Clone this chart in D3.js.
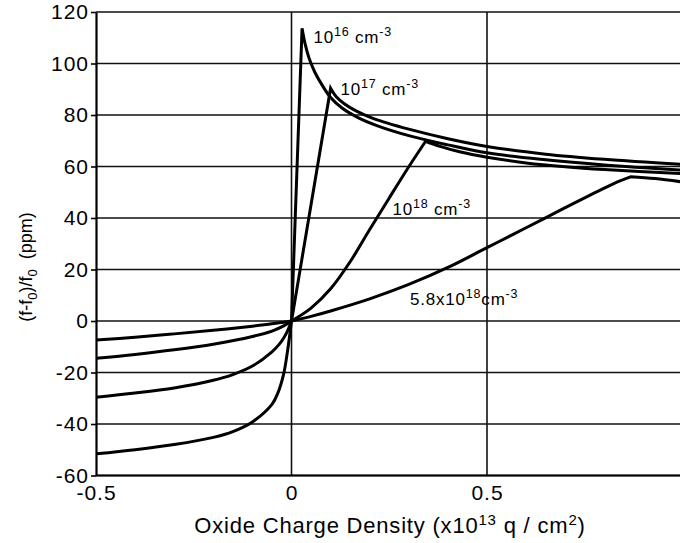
<!DOCTYPE html>
<meta charset="UTF-8">
<style>
    body { margin: 0; background: #fff; }
    text { font-family: "Liberation Sans", Arial, sans-serif; fill: #000; }
    .grid line { stroke: #111; stroke-width: 1.6px; }
    .curve { fill: none; stroke: #000; stroke-width: 3px; stroke-linejoin: miter; stroke-miterlimit: 4; }
</style>
<body>
<div id="chart"></div>
<script src="https://d3js.org/d3.v7.min.js"></script>
<script>

// tick values
var xTicks = [-0.5, 0, 0.5];
var yTicks = [-60, -40, -20, 0, 20, 40, 60, 80, 100, 120];

// curves: [oxide charge, (f-f0)/f0]
var n16 = [[-0.5,-7.4],[-0.4,-6.3],[-0.3,-5.0],[-0.2,-3.6],[-0.1,-2.0],[-0.05,-1.1],[-0.02,-0.45],
    [0,0],[0.027,113.7],
    [0.035,107.5],[0.045,102],[0.06,96.5],[0.08,91.2],[0.1,86.8],[0.13,82.6],[0.17,79],
    [0.22,75.8],[0.3,72],[0.4,68.4],[0.5,65.3],[0.65,62.6],[0.8,60.6],[1.0,58.6]];

var n17 = [[-0.5,-14.5],[-0.4,-13],[-0.3,-11.2],[-0.2,-9],[-0.1,-6.0],[-0.05,-3.9],[-0.02,-1.9],
    [0,0],[0.1,90.4],
    [0.115,87],[0.135,84.4],[0.165,81.6],[0.21,78.6],[0.3,74.5],[0.4,70.8],[0.5,67.8],
    [0.65,64.8],[0.8,62.8],[1.0,60.8]];

var n18 = [[-0.5,-29.6],[-0.4,-28],[-0.3,-26],[-0.2,-23],[-0.15,-20.8],[-0.1,-17.5],[-0.05,-12],
    [-0.03,-8.8],[-0.02,-6.6],[-0.01,-3.8],[0,0],
    [0.05,5],[0.1,12.5],[0.15,23],[0.2,35.5],[0.25,47.8],[0.3,59.9],[0.343,69.8],
    [0.38,67.8],[0.43,65.7],[0.5,63.6],[0.6,61.4],[0.7,59.9],[0.8,58.8],[1.0,57.2]];

var n58 = [[-0.5,-51.6],[-0.4,-50],[-0.3,-48],[-0.2,-45.2],[-0.15,-42.95],[-0.1,-39.2],
    [-0.05,-32.4],[-0.035,-28],[-0.02,-20.5],[-0.01,-11.5],[0,0],
    [0.05,1.8],[0.1,3.9],[0.2,8.6],[0.3,14.2],[0.4,20.8],[0.5,28.5],[0.6,36.2],[0.7,44],
    [0.8,51.6],[0.84,54.4],[0.867,56],
    [0.93,55.3],[1.0,54]];

var series = [n16, n17, n18, n58];

// curve labels: base, exponent, unit
var labelBase = ["10", "10", "10", "5.8x10"];
var labelExp = ["16", "17", "18", "18"];
var labelUnit = [" cm", " cm", " cm", "cm"];

var width = 680, height = 543;

var x = d3.scaleLinear().domain([-0.5, 1.0]).range([96, 682.5]);
var y = d3.scaleLinear().domain([-60, 120]).range([475.5, 12]);

var svg = d3.select("#chart").append("svg")
    .attr("width", width)
    .attr("height", height);

svg.append("defs").append("clipPath").attr("id", "clip")
    .append("rect")
    .attr("x", x(-0.5)).attr("y", y(120) - 2)
    .attr("width", width - x(-0.5)).attr("height", y(-60) - y(120) + 4);

// horizontal grid
svg.append("g").attr("class", "grid")
    .selectAll("line")
    .data(yTicks)
    .enter().append("line")
    .attr("x1", x(-0.5)).attr("x2", width)
    .attr("y1", function(d) { return y(d); })
    .attr("y2", function(d) { return y(d); });

// vertical grid
svg.append("g").attr("class", "grid")
    .selectAll("line")
    .data([0, 0.5])
    .enter().append("line")
    .attr("x1", function(d) { return x(d); })
    .attr("x2", function(d) { return x(d); })
    .attr("y1", y(120)).attr("y2", y(-60));

// smooth pieces: negative side, rise to the peak, fall after it
var line = d3.line()
    .x(function(d) { return x(d[0]); })
    .y(function(d) { return y(d[1]); })
    .curve(d3.curveCatmullRom.alpha(0.5));

function curvePath(s) {
    var i0 = s.findIndex(function(d) { return d[0] === 0; });
    var ip = d3.maxIndex(s, function(d) { return d[1]; });
    var parts = [s.slice(0, i0 + 1), s.slice(i0, ip + 1), s.slice(ip)];
    return parts.map(function(p, i) {
        var d = line(p);
        return i ? d.replace(/^M/, "L") : d;
    }).join("");
}

svg.append("g").attr("clip-path", "url(#clip)")
    .selectAll("path")
    .data(series)
    .enter().append("path")
    .attr("class", "curve")
    .attr("d", curvePath);

// Y axis
var yAxis = svg.append("g")
    .attr("transform", "translate(" + x(-0.5) + ",0)")
    .call(d3.axisLeft(y).tickValues(yTicks).tickSize(5).tickPadding(2).tickSizeOuter(0)
        .tickFormat(function(d) { return String(d); }));
yAxis.select(".domain").attr("stroke-width", 2.2);
yAxis.selectAll(".tick line").attr("stroke-width", 1.6);
yAxis.selectAll("text").style("font-size", "21px").style("letter-spacing", "1px")
    .attr("fill", "#000").attr("font-family", null);

// X axis
var xAxis = svg.append("g")
    .attr("transform", "translate(0," + y(-60) + ")")
    .call(d3.axisBottom(x).tickValues(xTicks).tickSize(0).tickPadding(10)
        .tickFormat(function(d) { return String(d); }));
xAxis.select(".domain").attr("stroke-width", 2.2).attr("d", "M" + x(-0.5) + ",0H" + width);
xAxis.selectAll("text").style("font-size", "21px").style("letter-spacing", "1px")
    .attr("fill", "#000").attr("font-family", null);

// curve labels
var labelPos = [[0.056, 108], [0.125, 87.8], [0.258, 41.2], [0.303, 6.2]];
labelPos.forEach(function(p, i) {
    var t = svg.append("text")
        .attr("x", x(p[0])).attr("y", y(p[1]))
        .style("font-size", "17px")
        .style("letter-spacing", "0.8px");
    t.append("tspan").text(labelBase[i]);
    t.append("tspan").attr("dy", -7).style("font-size", "12.5px").text(labelExp[i]);
    t.append("tspan").attr("dy", 7).text(labelUnit[i]);
    t.append("tspan").attr("dy", -7).style("font-size", "12.5px").text("-3");
});

// X title
var xt = svg.append("text")
    .attr("x", 390).attr("y", 533)
    .attr("text-anchor", "middle")
    .style("font-size", "22px")
    .style("letter-spacing", "0.8px");
xt.append("tspan").text("Oxide Charge Density (x10");
xt.append("tspan").attr("dy", -8).style("font-size", "15px").text("13");
xt.append("tspan").attr("dy", 8).text(" q / cm");
xt.append("tspan").attr("dy", -8).style("font-size", "15px").text("2");
xt.append("tspan").attr("dy", 8).text(")");

// Y title
var yt = svg.append("text")
    .attr("transform", "translate(32,267) rotate(-90)")
    .attr("text-anchor", "middle")
    .style("font-size", "18px");
yt.append("tspan").text("(f-f");
yt.append("tspan").attr("dy", 5).style("font-size", "13px").text("0");
yt.append("tspan").attr("dy", -5).text(")/f");
yt.append("tspan").attr("dy", 5).style("font-size", "13px").text("0");
yt.append("tspan").attr("dy", -5).attr("xml:space", "preserve").text("  (ppm)");

</script>
</body>
